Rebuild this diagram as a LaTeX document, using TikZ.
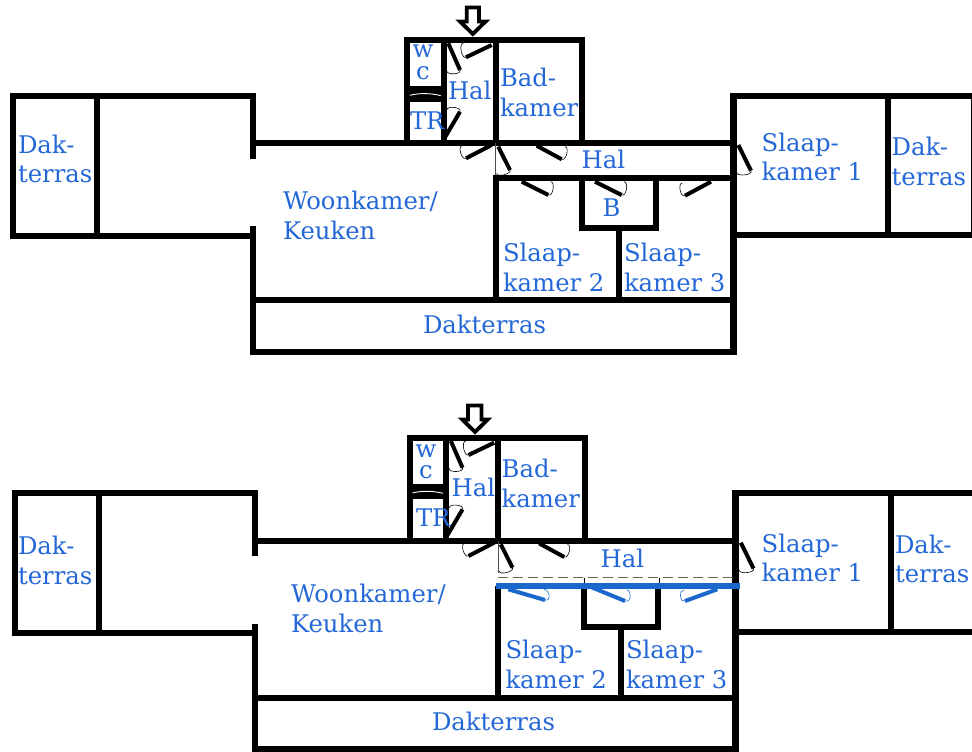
\documentclass[tikz,border=0pt]{standalone}
\usepackage{fontspec}
\setmainfont{DejaVu Serif}
\usetikzlibrary{calc}
\definecolor{labelblue}{HTML}{2468D8}
\definecolor{wallblue}{HTML}{1B68CC}
\tikzset{
  x=1pt,y=-1pt,
  wall/.style={draw=black,line width=6pt,line cap=rect,miter limit=10},
  heavywall/.style={draw=black,line width=6.8pt,line cap=butt},
  thinwall/.style={draw=black!70,line width=0.7pt},
  leaf/.style={line width=4pt,line cap=butt},
  swing/.style={line width=0.6pt},
  label/.style={text=labelblue,inner sep=0pt,outer sep=0pt,anchor=base west,align=left,
    font=\fontsize{24.3}{29.7}\selectfont},
  tightlabel/.style={label,anchor=base,align=center,font=\fontsize{24.3}{21}\selectfont},
  entry/.style={draw=black,fill=white,line width=3.8pt,miter limit=10},
}
% hinge, free end of the leaf, point where the swing meets the wall
\newcommand{\doorleaf}[4][black]{%
  \draw[leaf,draw=#1] (#2) -- (#3);
  \draw[swing,draw=#1] (#3) .. controls ($(#2)!1.17!(#3)$) and ($(#2)!1.17!(#4)$) .. (#4);
}
% everything the two plans have in common
\newcommand{\planshell}{%
  \draw[wall] (252.5,155.5) -- (252.5,95.5) -- (12.5,95.5) -- (12.5,235.5) -- (252.5,235.5);
  \draw[wall] (96.7,95.5) -- (96.7,235.5);
  \draw[wall] (252.5,229.3) -- (252.5,351.7) -- (733.3,351.7);
  \draw[wall] (252.5,143) -- (733.3,143);
  \draw[wall] (252.5,300) -- (733.3,300);
  \draw[heavywall] (733.3,354.7) -- (733.3,92.5);
  \draw[wall] (974,234.5) -- (733.3,234.5);
  \draw[wall] (733.3,95.5) -- (974,95.5) -- (974,234.5);
  \draw[wall] (888.3,95.5) -- (888.3,234.5);
  \draw[wall] (407.3,143) -- (407.3,40) -- (582,40) -- (582,143);
  \draw[wall] (443.7,40) -- (443.7,143);
  \draw[wall] (495.5,40) -- (495.5,143);
  \fill[black] (407.3,86) rectangle (443.7,101.7);
  \draw[white,line width=0.9pt] (410,95.2) .. controls (420,93) and (430,93) .. (440.7,95.6);
  \draw[thinwall] (495.5,143) -- (495.5,175);
  \doorleaf{491.7,45}{466,57.3}{463.3,43.3}
  \doorleaf{448.3,43.3}{460,70}{446.7,70.7}
  \doorleaf{445,137.3}{460,111.7}{446.7,110}
  \doorleaf{491.7,145}{466,158.3}{462.3,145.7}
  \doorleaf{498.3,146.7}{510,170}{496.7,173.3}
  \doorleaf{536.7,145.7}{561.7,159.3}{565,146.7}
  \doorleaf{738.3,145}{751,170.7}{736.7,172.3}
}
\begin{document}
\begin{tikzpicture}
\useasboundingbox (0,0) rectangle (972,752);
\clip (0,0) rectangle (972,752);
\fill[white] (0,0) rectangle (972,752);

% ---------- upper plan ----------
\planshell
\draw[wall] (495.5,178) -- (733.3,178);
\draw[wall] (495.5,178) -- (495.5,300);
\draw[wall] (581.7,178) -- (581.7,228) -- (655.8,228) -- (655.8,178);
\draw[wall] (618.8,228) -- (618.8,300);
\doorleaf{521.7,181.7}{548.3,195}{550.7,181.7}
\doorleaf{595,181.7}{621.7,195}{624,181.7}
\doorleaf{711,181.7}{685,195.7}{682.3,183}
\draw[entry] (466.7,7.6) -- (479,7.6) -- (479,21.6) -- (485.5,21.6) -- (472.8,34) -- (460.1,21.6) -- (466.7,21.6) -- cycle;

\node[label] (t-terras) at (18,182.7) {Dak-\\terras};
\node[label] (t-woon) at (283,239) {Woonkamer/\\Keuken};
\node[tightlabel] (t-wc) at (423,79) {w\\c};
\node[label] (t-hal) at (448,99.3) {Hal};
\node[label] (t-tr) at (410,129.3) {TR};
\node[label] (t-bad) at (500,116) {Bad-\\kamer};
\node[label] (t-hal2) at (581.7,168.3) {Hal};
\node[label] (t-b) at (602.7,216.7) {B};
\node[label] (t-s1) at (761.7,180.7) {Slaap-\\kamer 1};
\node[label] (t-terras2) at (891.7,185) {Dak-\\terras};
\node[label] (t-s2) at (503,291) {Slaap-\\kamer 2};
\node[label] (t-s3) at (624,291) {Slaap-\\kamer 3};
\node[label] (t-dak) at (423,333) {Dakterras};

% ---------- lower plan ----------
\begin{scope}[shift={(2.5,397.7)}]
\planshell
\end{scope}
\draw[wall] (498,589) -- (498,697.7);
\draw[wall] (584,589) -- (584,626.7) -- (658,626.7) -- (658,589);
\draw[wall] (621.3,626.7) -- (621.3,697.7);
\draw[draw=black!60,line width=1.3pt,dash pattern=on 10pt off 5pt] (498,577.7) -- (736,577.7);
\draw[thinwall,draw=black] (584.7,577.7) -- (584.7,586);
\draw[thinwall,draw=black] (659.3,577.7) -- (659.3,586);
\draw[draw=wallblue,line width=6pt] (496,586) -- (739.5,586);
\doorleaf[wallblue]{508.3,589.3}{545,600}{544,589.3}
\doorleaf[wallblue]{591.7,587.3}{625,601}{626.7,590}
\doorleaf[wallblue]{717.3,589.3}{685,601}{684,590}
\draw[entry] (467.9,405.5) -- (481.5,405.5) -- (481.5,419.5) -- (487.7,419.5) -- (475,432) -- (462.3,419.5) -- (467.9,419.5) -- cycle;

\node[label] (b-terras) at (18,584.3) {Dak-\\terras};
\node[label] (b-woon) at (291,632) {Woonkamer/\\Keuken};
\node[tightlabel] (b-wc) at (426,478.3) {w\\c};
\node[label] (b-hal) at (451.7,496) {Hal};
\node[label] (b-tr) at (416,526.7) {TR};
\node[label] (b-bad) at (501.7,507.3) {Bad-\\kamer};
\node[label] (b-hal2) at (600.7,567.3) {Hal};
\node[label] (b-s1) at (761.7,581.7) {Slaap-\\kamer 1};
\node[label] (b-terras2) at (895,582.7) {Dak-\\terras};
\node[label] (b-s2) at (505.5,688) {Slaap-\\kamer 2};
\node[label] (b-s3) at (626,688) {Slaap-\\kamer 3};
\node[label] (b-dak) at (432,730) {Dakterras};
\end{tikzpicture}
\end{document}
